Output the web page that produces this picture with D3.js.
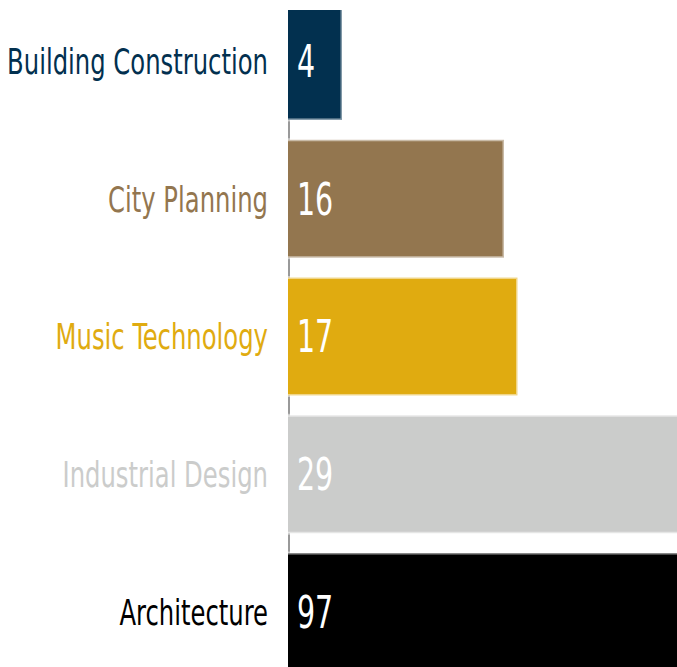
<!DOCTYPE html>
<html>
<head>
<meta charset="utf-8">
<script src="https://cdn.jsdelivr.net/npm/d3@7"></script>
<style>
  body { margin: 0; background: #fff; overflow: hidden; }
  text { font-family: "DejaVu Sans Condensed", "Liberation Sans", sans-serif; }
</style>
</head>
<body>
<div id="chart"></div>
<script>
// majors and their counts, top to bottom
const majors = ['Building Construction', 'City Planning', 'Music Technology', 'Industrial Design', 'Architecture'];
const counts = [4, 16, 17, 29, 97];
const colors = ['#02304f', '#93764f', '#e0ab10', '#cbcccb', '#000000'];

const width = 677, height = 667;
const svg = d3.select('#chart')
  .append('svg')
  .attr('width', width)
  .attr('height', height);

const x = d3.scaleLinear()
  .domain([0, 97])
  .range([288, 288 + 97 * 13.5]);

const y = d3.scaleBand()
  .domain(majors)
  .range([2, 671])
  .paddingInner(0.144)
  .paddingOuter(0);

svg.append('defs').append('clipPath')
  .attr('id', 'plot')
  .append('rect')
  .attr('x', x(0))
  .attr('y', 10)
  .attr('width', width)
  .attr('height', height);

// axis line behind the bars
svg.append('line')
  .attr('x1', x(0) + 1).attr('x2', x(0) + 1)
  .attr('y1', 10).attr('y2', height)
  .attr('stroke', '#999')
  .attr('stroke-width', 2);

const rows = majors.map((m, i) => ({major: m, count: counts[i], color: colors[i]}));

const g = svg.append('g').attr('clip-path', 'url(#plot)');

g.selectAll('rect')
  .data(rows)
  .enter().append('rect')
  .attr('x', x(0) - 6)
  .attr('y', d => y(d.major))
  .attr('width', d => x(d.count) - x(0) + 6)
  .attr('height', y.bandwidth())
  .attr('fill', d => d.color)
  .attr('stroke', 'rgba(255,255,255,0.5)')
  .attr('stroke-width', 3);

// counts inside the bars
g.selectAll('text.count')
  .data(rows)
  .enter().append('text')
  .attr('class', 'count')
  .attr('transform', d => `translate(${x(0) + 9},${y(d.major) + y.bandwidth() / 2}) scale(0.72,1)`)
  .attr('dy', '0.36em')
  .attr('font-size', 44)
  .attr('font-weight', 300)
  .attr('fill', '#fff')
  .text(d => d.count);

// category labels, squeezed to look like a condensed face
const labels = svg.selectAll('text.major')
  .data(rows)
  .enter().append('text')
  .attr('class', 'major')
  .attr('dy', '0.36em')
  .attr('text-anchor', 'end')
  .attr('font-size', 36)
  .attr('fill', d => d.color)
  .text(d => d.major);

const longest = d3.max(labels.nodes(), n => n.getComputedTextLength());
const squeeze = 261 / longest;
labels.attr('transform', d => `translate(268,${y(d.major) + y.bandwidth() / 2}) scale(${squeeze},1)`);
</script>
</body>
</html>
